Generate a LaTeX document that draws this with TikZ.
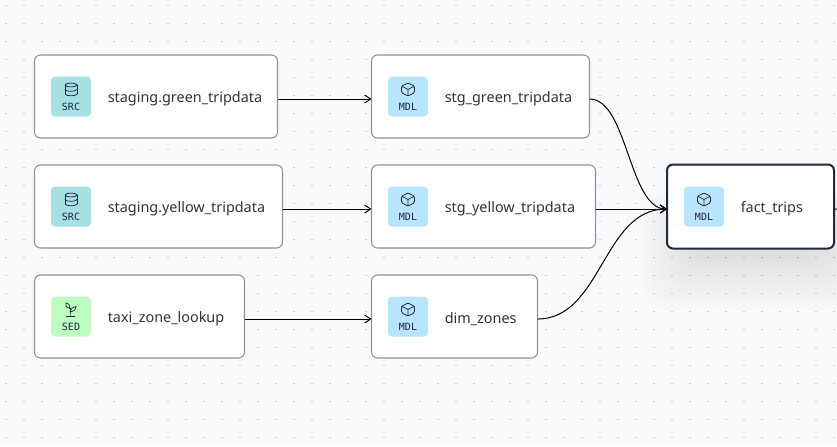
\documentclass[tikz,border=0pt]{standalone}
\usepackage{fontspec}
\setmainfont{Noto Sans}
\newfontfamily\badgefont{DejaVu Sans Mono}
\usetikzlibrary{arrows.meta}
\definecolor{canvasbg}{HTML}{F9FAFC}
\definecolor{gridgray}{HTML}{CDCFD4}
\definecolor{boxgray}{HTML}{8E919A}
\definecolor{inkdark}{HTML}{1F2937}
\definecolor{nametext}{HTML}{2F343C}
\definecolor{srcteal}{HTML}{A5E1E3}
\definecolor{mdlblue}{HTML}{B8E4FD}
\definecolor{sedgreen}{HTML}{BDFDBF}
\tikzset{
  modelbox/.style={draw=boxgray,fill=white,line width=0.8pt,rounded corners=4.5pt,anchor=north west,minimum height=62.25pt,inner sep=0pt,outer sep=0pt},
  factbox/.style={modelbox,draw=inkdark,line width=1.5pt,minimum height=63pt},
  badge/.style={rounded corners=3pt,minimum width=30pt,minimum height=30pt,inner sep=0pt},
  badgetext/.style={font=\badgefont\fontsize{7.5pt}{9pt}\selectfont,text=inkdark,inner sep=0pt},
  modelname/.style={font=\fontsize{10.8pt}{12pt}\selectfont,text=nametext,anchor=west,inner sep=0pt},
  link/.style={draw=black,line width=0.75pt,-{Straight Barb[length=4.5pt,width=6pt]}},
  iconline/.style={draw=inkdark,line width=0.55pt,line cap=round,line join=round,yscale=-1},
  pics/dbicon/.style={code={
    \draw[iconline] (-6,-4.5) -- (-6,4.5) (6,-4.5) -- (6,4.5);
    \draw[iconline] (0,-4.5) ellipse (6 and 1.9);
    \draw[iconline] (-6,0) .. controls (-5,2.4) and (5,2.4) .. (6,0);
    \draw[iconline] (-6,4.5) .. controls (-5,6.9) and (5,6.9) .. (6,4.5);
  }},
  pics/cubeicon/.style={code={
    \draw[iconline,rounded corners=1pt] (0,-6.5) -- (6.5,-3.2) -- (6.5,3.2) -- (0,6.5) -- (-6.5,3.2) -- (-6.5,-3.2) -- cycle;
    \draw[iconline] (-6.2,-3.3) -- (0,0) -- (6.2,-3.3) (0,0) -- (0,6.3);
  }},
  pics/sproutdraw/.style={code={
    \draw[iconline] (-1,6) .. controls (-1,3) and (-1,1) .. (-1,-1);
    \draw[iconline] (-1,-1) .. controls (-1,-5) and (-3,-6.5) .. (-5,-6.5) .. controls (-5.5,-3) and (-4,-1) .. (-1,-1);
    \draw[iconline] (-1,2.5) .. controls (2,2.5) and (4.5,1) .. (5,-3) .. controls (2,-3) and (0,-1) .. (-1,2.5);
    \draw[iconline] (-4.5,6.5) -- (4,6.5);
  }},
}
\begin{document}
\begin{tikzpicture}[x=0.75pt,y=0.75pt,yscale=-1,xscale=1]
\useasboundingbox (0,0) rectangle (837,446);
\fill[canvasbg] (0,0) rectangle (837,446);

% dotted canvas
\foreach \gx in {0,...,46} \foreach \gy in {0,...,24}
  \fill[gridgray] (5+18*\gx,5+18*\gy) rectangle +(2,1);

% soft shadow under the selected model
\foreach \grow in {1,...,30}
  \fill[black,opacity=0.005,rounded corners=18pt] (695-1.8*\grow,222-\grow) rectangle (815+1.8*\grow,250+2*\grow);

% Boxes
\node[modelbox,minimum width=182.25pt] (greensrc) at (34.5,55) {};
\node[modelbox,minimum width=186pt] (yellowsrc) at (34.5,165) {};
\node[modelbox,minimum width=157.5pt] (zonesed) at (34.5,275) {};
\node[modelbox,minimum width=163.5pt] (greenstg) at (371.5,55) {};
\node[modelbox,minimum width=168pt] (yellowstg) at (371.5,165) {};
\node[modelbox,minimum width=124.5pt] (zonesdim) at (371.5,275) {};
\node[factbox,minimum width=125.25pt] (facttrips) at (667,164.5) {};

% Badges
\node[badge,fill=srcteal] (greensrcb) at (71,96.5) {};
\node[badge,fill=srcteal] (yellowsrcb) at (71,206.5) {};
\node[badge,fill=sedgreen] (zonesedb) at (71,316.5) {};
\node[badge,fill=mdlblue] (greenstgb) at (408,96.5) {};
\node[badge,fill=mdlblue] (yellowstgb) at (408,206.5) {};
\node[badge,fill=mdlblue] (zonesdimb) at (408,316.5) {};
\node[badge,fill=mdlblue] (factb) at (704,206.5) {};

% Icons
\pic at (71,89.5) {dbicon};
\pic at (71,199.5) {dbicon};
\pic at (71,309.5) {sproutdraw};
\pic at (408,89.5) {cubeicon};
\pic at (408,199.5) {cubeicon};
\pic at (408,309.5) {cubeicon};
\pic at (704,199.5) {cubeicon};

% Badge text
\node[badgetext] (greensrct) at (71,107) {SRC};
\node[badgetext] (yellowsrct) at (71,217) {SRC};
\node[badgetext] (zonesedt) at (71,327) {SED};
\node[badgetext] (greenstgt) at (408,107) {MDL};
\node[badgetext] (yellowstgt) at (408,217) {MDL};
\node[badgetext] (zonesdimt) at (408,327) {MDL};
\node[badgetext] (factt) at (704,217) {MDL};

% Text Node
\node[modelname] (greensrcn) at (107.5,99) {staging.green\_tripdata};
\node[modelname] (yellowsrcn) at (107.5,209) {staging.yellow\_tripdata};
\node[modelname] (zonesedn) at (107.5,319) {taxi\_zone\_lookup};
\node[modelname] (greenstgn) at (444.5,99) {stg\_green\_tripdata};
\node[modelname] (yellowstgn) at (444.5,209) {stg\_yellow\_tripdata};
\node[modelname] (zonesdimn) at (444.5,319) {dim\_zones};
\node[modelname] (factn) at (740.5,209) {fact\_trips};

% Links
\draw[link] ([yshift=1.9pt]greensrc.east) -- ([yshift=1.9pt]greenstg.west);
\draw[link] ([yshift=1.9pt]yellowsrc.east) -- ([yshift=1.9pt]yellowstg.west);
\draw[link] ([yshift=1.9pt]zonesed.east) -- ([yshift=1.9pt]zonesdim.west);
\draw[link] ([yshift=1.9pt]greenstg.east) .. controls +(38,0) and +(-38,0) .. ([yshift=1.9pt]facttrips.west);
\draw[link] ([yshift=1.9pt]yellowstg.east) -- ([yshift=1.9pt]facttrips.west);
\draw[link] ([yshift=1.9pt]zonesdim.east) .. controls +(64,0) and +(-64,0) .. ([yshift=1.9pt]facttrips.west);
\coordinate (factout) at (837,209);
\draw[line width=0.75pt] ([yshift=1.9pt]facttrips.east) -- (factout);
\end{tikzpicture}
\end{document}
